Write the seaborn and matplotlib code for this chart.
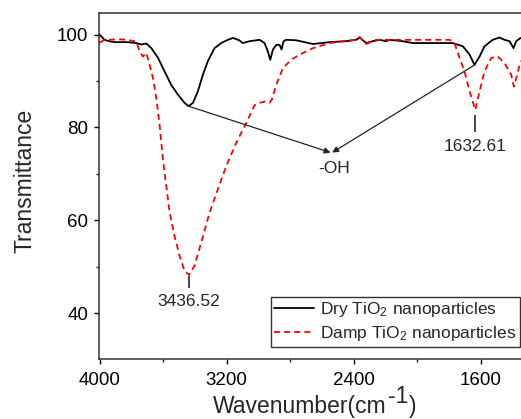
import numpy as np
import pandas as pd
import matplotlib
matplotlib.use("Agg")
import matplotlib.pyplot as plt
from matplotlib.ticker import MultipleLocator
import seaborn as sns

# ---- data ----
dry_wn = [4000, 3969, 3940, 3905, 3824, 3769, 3737, 3706, 3674, 3632, 3591, 3549, 3507,
          3465, 3440, 3412, 3381, 3349, 3318, 3276, 3234, 3192, 3160, 3120, 3099, 3055,
          2992, 2961, 2940, 2925, 2908, 2887, 2866, 2854, 2841, 2824, 2762, 2656, 2551,
          2446, 2384, 2362, 2320, 2279, 2236, 2194, 2173, 2090, 2026, 1880, 1775, 1711,
          1669, 1638, 1606, 1575, 1523, 1480, 1449, 1417, 1392, 1375, 1348]
dry_t = [100, 98.9, 98.6, 98.4, 98.4, 98.2, 97.9, 98.1, 97.1, 95.0, 92.1, 89.2, 87.1,
         85.3, 84.6, 85.3, 87.8, 91.4, 94.3, 97.1, 98.2, 98.9, 99.3, 98.8, 98.2, 98.6,
         98.9, 98.2, 96.4, 94.6, 96.8, 97.8, 97.8, 96.8, 98.6, 98.9, 98.8, 98.0, 98.4,
         98.6, 98.9, 99.4, 98.2, 98.6, 98.9, 98.6, 98.9, 98.6, 98.2, 98.2, 98.2, 97.5,
         95.7, 93.5, 95.3, 97.5, 98.9, 99.4, 98.9, 98.6, 97.1, 98.6, 99.3]

damp_wn = [4000, 3969, 3870, 3824, 3769, 3748, 3727, 3706, 3685, 3664, 3643, 3622, 3601,
           3580, 3559, 3528, 3496, 3465, 3436, 3402, 3360, 3307, 3255, 3202, 3139, 3076,
           3024, 2992, 2960, 2930, 2915, 2887, 2845, 2793, 2740, 2656, 2551, 2446, 2384,
           2362, 2320, 2258, 2173, 2090, 1880, 1795, 1764, 1732, 1701, 1669, 1633, 1606,
           1575, 1533, 1491, 1449, 1407, 1390, 1369, 1354, 1340]
damp_t = [98.3, 98.9, 99.0, 98.9, 98.5, 96.4, 95.3, 96.1, 93.5, 90.7, 86.4, 80.5, 73.1,
          67.4, 61.7, 56.6, 52.3, 49.1, 48.2, 50.2, 55.2, 61.7, 66.7, 71.7, 76.7, 81.0,
          84.8, 85.3, 85.6, 85.3, 86.0, 89.2, 92.8, 94.6, 95.7, 97.1, 98.2, 98.7, 98.9,
          99.5, 98.0, 98.9, 98.9, 98.9, 98.9, 98.9, 98.2, 95.0, 92.1, 87.8, 83.8, 87.8,
          92.1, 95.0, 95.3, 93.9, 91.4, 88.8, 91.4, 93.5, 94.5]

series_names = ["Dry TiO$_2$ nanoparticles", "Damp TiO$_2$ nanoparticles"]
x_ticks = [4000, 3200, 2400, 1600]
y_ticks = [40, 60, 80, 100]
peak_labels = ["3436.52", "1632.61"]
oh_label = "-OH"

df = pd.concat([
    pd.DataFrame({"wn": dry_wn, "T": dry_t, "sample": series_names[0]}),
    pd.DataFrame({"wn": damp_wn, "T": damp_t, "sample": series_names[1]}),
], ignore_index=True)

sns.set_theme(style="ticks")
plt.rcParams["font.family"] = ["Liberation Sans", "DejaVu Sans"]
plt.rcParams["mathtext.default"] = "regular"

W, H = 521, 419
fig = plt.figure(figsize=(W / 100, H / 100), dpi=100)
ax = fig.add_axes([0.19, 0.1432, 0.81, 0.826])

sns.lineplot(data=df[df["sample"] == series_names[0]], x="wn", y="T", ax=ax,
             color="black", lw=1.3, label=series_names[0], sort=False)
sns.lineplot(data=df[df["sample"] == series_names[1]], x="wn", y="T", ax=ax,
             color="#ff0000", lw=1.3, label=series_names[1], sort=False,
             dashes=False)
ax.lines[1].set_dashes([3.3, 2.3])

ax.set_xlim(4004, 1345)
ax.set_ylim(30.1, 104.7)
ax.set_xticks(x_ticks)
ax.set_yticks(y_ticks)
ax.xaxis.set_minor_locator(MultipleLocator(400))
ax.yaxis.set_minor_locator(MultipleLocator(10))
ax.tick_params(axis="both", which="major", direction="out", length=3.6, width=1,
               labelsize=13.5, colors="black", pad=4)
ax.tick_params(axis="both", which="minor", direction="out", length=2.2, width=1)
ax.tick_params(axis="x", which="major", pad=6)
for s in ["left", "bottom", "top"]:
    ax.spines[s].set_color("#333333")
    ax.spines[s].set_linewidth(1.1)
ax.spines["right"].set_visible(False)

ax.set_xlabel("")
ax.set_ylabel("Transmittance", fontsize=16.5)
ax.yaxis.set_label_coords(-0.1754, 0.516)
ax.yaxis.label.set_verticalalignment("center")

# x-axis label built from pieces so the superscript is full size
renderer = fig.canvas.get_renderer()
t1 = fig.text(213 / W, 1 - 413 / H, "Wavenumber(cm", fontsize=16.5,
              ha="left", va="baseline")
bb1 = t1.get_window_extent(renderer)
t2 = fig.text(bb1.x1 / W + 1 / W, 1 - 403 / H, "-1", fontsize=16.5,
              ha="left", va="baseline")
bb2 = t2.get_window_extent(renderer)
fig.text(bb2.x1 / W + 1 / W, 1 - 413 / H, ")", fontsize=16.5,
         ha="left", va="baseline")

# annotations
ax.annotate("", xy=(2545, 74.6), xytext=(3440, 84.6),
            arrowprops=dict(arrowstyle="-|>", color="#222222", lw=0.9,
                            mutation_scale=9, shrinkA=0, shrinkB=0))
ax.annotate("", xy=(2535, 74.6), xytext=(1636, 93.5),
            arrowprops=dict(arrowstyle="-|>", color="#222222", lw=0.9,
                            mutation_scale=9, shrinkA=0, shrinkB=0))
ax.text(2520, 71.2, oh_label, ha="center", va="center", fontsize=12.5)

ax.vlines(3436, 45.4, 48.0, color="#444444", lw=1.4)
ax.text(3436, 42.6, peak_labels[0], ha="center", va="center", fontsize=12.5)
ax.vlines(1632, 79.1, 82.8, color="#444444", lw=1.4)
ax.text(1632, 75.9, peak_labels[1], ha="center", va="center", fontsize=12.5)

leg = ax.legend(loc="lower right", bbox_to_anchor=(0.997, 0.035), fontsize=12.5,
                frameon=True, fancybox=False, framealpha=1, edgecolor="#333333",
                borderaxespad=0, handlelength=2.3, handletextpad=0.35,
                borderpad=0.2, labelspacing=0.3)
leg.get_frame().set_linewidth(1.0)

fig.savefig("out.png", dpi=100, facecolor="white")
